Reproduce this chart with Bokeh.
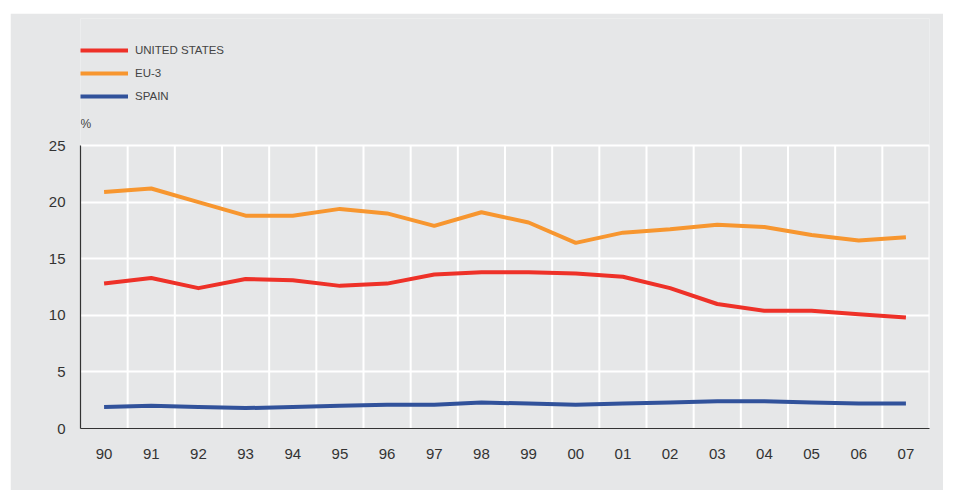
from bokeh.plotting import figure
from bokeh.models import (Range1d, FixedTicker, Legend, LegendItem, Label)
from bokeh.embed import file_html
from bokeh.resources import INLINE

years = ["90", "91", "92", "93", "94", "95", "96", "97", "98", "99",
         "00", "01", "02", "03", "04", "05", "06", "07"]
united_states = [12.8, 13.3, 12.4, 13.2, 13.1, 12.6, 12.8, 13.6, 13.8, 13.8,
                 13.7, 13.4, 12.4, 11.0, 10.4, 10.4, 10.1, 9.8]
eu3 = [20.9, 21.2, 20.0, 18.8, 18.8, 19.4, 19.0, 17.9, 19.1, 18.2,
       16.4, 17.3, 17.6, 18.0, 17.8, 17.1, 16.6, 16.9]
spain = [1.9, 2.0, 1.9, 1.8, 1.9, 2.0, 2.1, 2.1, 2.3, 2.2,
         2.1, 2.2, 2.3, 2.4, 2.4, 2.3, 2.2, 2.2]
y_ticks = [0, 5, 10, 15, 20, 25]
series_names = ["UNITED STATES", "EU-3", "SPAIN"]
series_colors = ["#EE3128", "#F7962F", "#31529B"]

x = list(range(len(years)))
boundaries = [i + 0.5 for i in x]
BG = "#E6E7E8"

# frame extends above the value axis so the legend and unit sit inside it
FRAME_H = 410
px_per_unit = 283 / y_ticks[-1]
y_top = FRAME_H / px_per_unit

p = figure(width=933, height=477, output_backend="svg", toolbar_location=None,
           x_range=Range1d(-0.5, len(years) - 0.5),
           y_range=Range1d(y_ticks[0], y_top),
           min_border_left=70, min_border_right=14, min_border_top=5,
           min_border_bottom=62)
p.margin = (13, 0, 0, 10)
p.background_fill_color = BG
p.border_fill_color = BG
p.outline_line_color = None

# vertical grid lines between categories, limited to the value range
p.segment(x0=boundaries, y0=[y_ticks[0]] * len(boundaries),
          x1=boundaries, y1=[y_ticks[-1]] * len(boundaries),
          line_color="white", line_width=2)

renderers = []
for vals, col in zip([united_states, eu3, spain], series_colors):
    r = p.line(x, vals, line_color=col, line_width=4, line_join="round")
    renderers.append(r)

for ax in (p.xaxis[0], p.yaxis[0]):
    ax.axis_line_color = "#333333"
    ax.axis_line_width = 1.2
    ax.major_tick_line_color = None
    ax.minor_tick_line_color = None
    ax.major_label_text_font = "Liberation Sans"
    ax.major_label_text_font_size = "15px"
    ax.major_label_text_color = "#333333"

p.xaxis.ticker = FixedTicker(ticks=x)
p.xaxis.major_label_overrides = {i: y for i, y in enumerate(years)}
p.xaxis.major_label_standoff = 14
p.yaxis.ticker = FixedTicker(ticks=y_ticks)
p.yaxis.bounds = (y_ticks[0], y_ticks[-1])
p.yaxis.major_label_standoff = 9

p.xgrid.grid_line_color = None
p.ygrid.ticker = FixedTicker(ticks=y_ticks)
p.ygrid.grid_line_color = "white"
p.ygrid.grid_line_width = 2

items = [LegendItem(label=n, renderers=[r]) for n, r in zip(series_names, renderers)]
legend = Legend(items=items, location=(0, 322), orientation="vertical",
                glyph_width=48, glyph_height=20, label_height=20, spacing=3,
                padding=0, margin=0, label_standoff=7,
                label_text_font="Liberation Sans", label_text_font_size="11.5px",
                label_text_color="#444444",
                border_line_color=None, background_fill_alpha=0)
p.add_layout(legend, "center")

pct = Label(x=0, y=305, x_units="screen", y_units="screen", text="%",
            text_font="Liberation Sans",
            text_font_size="12px", text_color="#444444",
            text_baseline="middle", text_align="left")
p.add_layout(pct)

open("out.html", "w").write(file_html(p, INLINE))
